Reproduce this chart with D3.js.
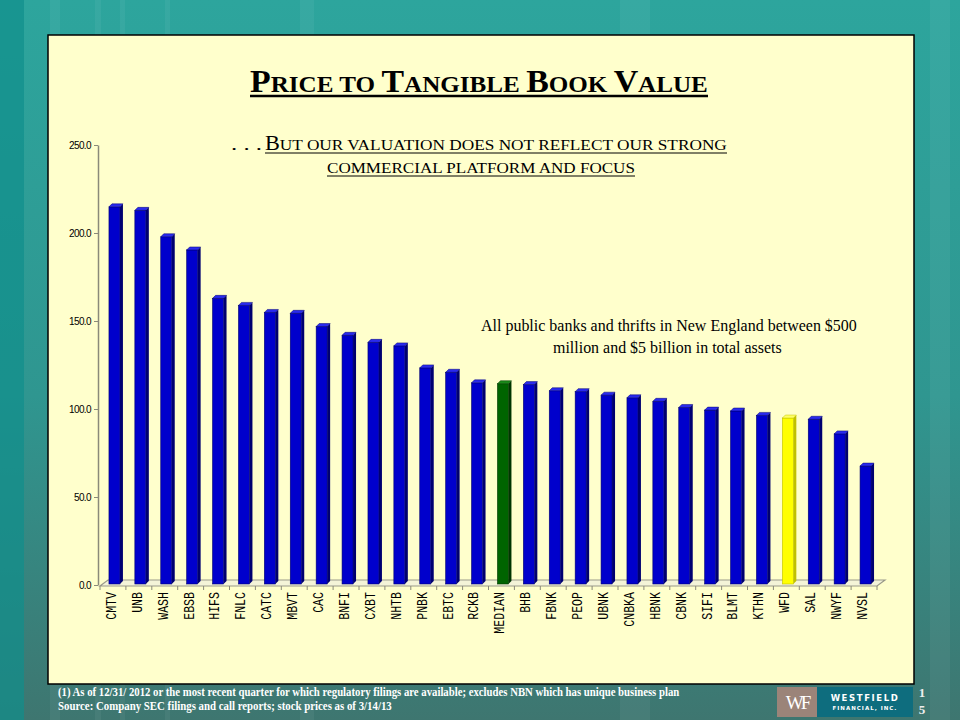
<!DOCTYPE html>
<html><head><meta charset="utf-8">
<script src="https://cdn.jsdelivr.net/npm/d3@7"></script>
<style>body{margin:0;background:#2a9a94}svg{display:block}</style>
</head><body><svg id="c" width="960" height="720"></svg>
<script>
const categories = ["CMTV","UNB","WASH","EBSB","HIFS","FNLC","CATC","MBVT","CAC","BNFI","CXBT","NHTB","PNBK","EBTC","RCKB","MEDIAN","BHB","FBNK","PEOP","UBNK","CNBKA","HBNK","CBNK","SIFI","BLMT","KTHN","WFD","SAL","NWYF","NVSL"];
const values = [216,214,199,191.5,164,160,156,155.5,148,143,139,137,124.5,122,116,115.5,115,111.5,111,109,107.5,105.5,102,100.5,100,97.5,96,95.3,87,68.7];
const medianCats = ["MEDIAN"];
const ownCats = ["WFD"];
const yTicks = [0,50,100,150,200,250];
const titleParts = [["P",1],["RICE TO ",0],["T",1],["ANGIBLE ",0],["B",1],["OOK ",0],["V",1],["ALUE",0]];
const sub1Parts = [["B",1],["UT OUR VALUATION DOES NOT REFLECT OUR STRONG",0]];
const sub2Parts = [["COMMERCIAL PLATFORM AND FOCUS",0]];
const noteLines = ["All public banks and thrifts in New England between $500","million and $5 billion in total assets"];
const footLines = ["(1) As of  12/31/ 2012 or the most recent quarter for which regulatory filings are available; excludes NBN which has unique business plan","Source:  Company SEC filings and call reports; stock prices as of 3/14/13"];

const svg = d3.select("#c");
const defs = svg.append("defs");
const bg = defs.append("linearGradient").attr("id","bg").attr("x1",0).attr("y1",0).attr("x2",0).attr("y2",1);
bg.append("stop").attr("offset","0%").attr("stop-color","#2da59d");
bg.append("stop").attr("offset","55%").attr("stop-color","#2f9690");
bg.append("stop").attr("offset","100%").attr("stop-color","#3e7670");
svg.append("rect").attr("width",960).attr("height",720).attr("fill","url(#bg)");
svg.append("rect").attr("width",24).attr("height",720).attr("fill","#0f8e8c").attr("opacity",0.7);
[[50,10],[95,6],[120,5],[165,5],[300,14],[620,30],[930,20]].forEach(([x,w])=>{
  svg.append("rect").attr("x",x).attr("y",0).attr("width",w).attr("height",720).attr("fill","#ffffff").attr("opacity",0.05);
});

// panel
svg.append("rect").attr("x",48).attr("y",35).attr("width",866).attr("height",649)
  .attr("fill","#ffffcc").attr("stroke","#000").attr("stroke-width",1.5);

// scales
const x = d3.scaleBand().domain(categories).range([100,877]).paddingInner(0.46).paddingOuter(0.23);
const y = d3.scaleLinear().domain([0,250]).range([585,145]);
const dx = 3, dy = 3, depthX = 8, depthY = 6;

// floor
const fl = x.range();
svg.append("path")
  .attr("d",`M${fl[0]},${y(0)+1}L${fl[1]},${y(0)+1}L${fl[1]+depthX},${y(0)+1-depthY}L${fl[0]+depthX},${y(0)+1-depthY}Z`)
  .attr("fill","#f4f4d8").attr("stroke","#9a9a8a").attr("stroke-width",1.2);

// x ticks at band boundaries
const bounds = categories.map(c => x(c) - x.step()*x.paddingInner()/2).concat([fl[1]]);
svg.append("g").selectAll("line").data(bounds).join("line")
  .attr("x1",d=>d).attr("x2",d=>d).attr("y1",y(0)+1).attr("y2",y(0)+5)
  .attr("stroke","#8a8a7a").attr("stroke-width",1);

// y axis
const yAxis = svg.append("g").attr("transform",`translate(98,0)`)
  .call(d3.axisLeft(y).tickValues(yTicks).tickFormat(d3.format(".1f")).tickSize(4).tickSizeOuter(0));
yAxis.select(".domain").attr("stroke","#8a8a7a").attr("stroke-width",1.5);
yAxis.selectAll(".tick line").attr("stroke","#8a8a7a");
yAxis.selectAll(".tick text").attr("font-family","Liberation Sans, Arial, sans-serif").attr("font-size",10)
  .attr("fill","#000").attr("letter-spacing","-0.6").attr("x",-7);

// bars
const colorOf = c => medianCats.includes(c) ? ["#006400","#003600","#1a8a1a"] :
  ownCats.includes(c) ? ["#ffff00","#c0c000","#ffff66"] : ["#0000cc","#000070","#2a2aee"];
const bw = x.bandwidth();
const fw = bw - dx;
const base = y(0) - 1;
const bars = svg.append("g").selectAll("g").data(categories.map((c,i)=>({c,v:values[i]}))).join("g");
bars.each(function(d){
  const g = d3.select(this);
  const [front, side, top] = colorOf(d.c);
  const x0 = x(d.c) + dx, y0 = y(d.v) + dy - 1;
  g.append("path").attr("d",`M${x0+fw},${y0}L${x0+fw+dx},${y0-dy}L${x0+fw+dx},${base-dy}L${x0+fw},${base}Z`).attr("fill",side);
  g.append("rect").attr("x",x0).attr("y",y0).attr("width",fw).attr("height",base-y0).attr("fill",front)
    .attr("stroke",side).attr("stroke-width",0.6);
  g.append("path").attr("d",`M${x0},${y0}L${x0+dx},${y0-dy}L${x0+fw+dx},${y0-dy}L${x0+fw},${y0}Z`).attr("fill",top)
    .attr("stroke",side).attr("stroke-width",0.5);
});

// x labels
svg.append("g").selectAll("text").data(categories).join("text")
  .attr("transform",d=>`translate(${x(d)+bw/2 - 1},592) rotate(-90) scale(1,1.3)`)
  .attr("text-anchor","end").attr("dominant-baseline","central")
  .attr("font-family","Liberation Mono, Courier New, monospace").attr("font-size",11.6)
  .attr("fill","#000").text(d=>d);

// fitted text helper
function fit(parts, x0, x1, baseline, big, small, opts) {
  const t = svg.append("text").attr("x",0).attr("y",0)
    .attr("font-family","Liberation Serif, Times New Roman, serif")
    .attr("font-weight",opts.weight||"normal").attr("fill",opts.fill||"#000");
  parts.forEach(([s,b])=>t.append("tspan").attr("font-size",b?big:small).text(s));
  const w = t.node().getComputedTextLength();
  const sx = (x1-x0)/w;
  t.attr("transform",`translate(${x0},${baseline}) scale(${sx},1)`);
  if (opts.underline) {
    svg.append("line").attr("x1",x0).attr("x2",x1).attr("y1",baseline+opts.underline[0]).attr("y2",baseline+opts.underline[0])
      .attr("stroke",opts.fill||"#000").attr("stroke-width",opts.underline[1]);
  }
  return t;
}

fit(titleParts, 250, 708, 92, 31, 23, {weight:"bold", underline:[4,2.5]});
fit([[". . . ",0]], 231, 262, 150, 19, 17, {});
fit(sub1Parts, 265, 727, 150, 20, 15.5, {underline:[3,1]});
fit(sub2Parts, 327, 635, 173, 20, 15.5, {underline:[3,1]});
fit([[noteLines[0],0]], 481, 857, 331, 16, 16, {});
fit([[noteLines[1],0]], 553, 782, 353, 16, 16, {});
fit([[footLines[0],0]], 58, 680, 696, 12.5, 12.5, {weight:"bold", fill:"#ffffff"});
fit([[footLines[1],0]], 58, 392, 710, 12.5, 12.5, {weight:"bold", fill:"#ffffff"});

// logo
svg.append("rect").attr("x",777).attr("y",687).attr("width",40).attr("height",30).attr("fill","#9b8479");
svg.append("rect").attr("x",817).attr("y",687).attr("width",96).attr("height",30).attr("fill","#0e6d7e");
svg.append("text").attr("x",797).attr("y",709).attr("text-anchor","middle")
  .attr("font-family","Liberation Serif, serif").attr("font-size",19).attr("fill","#fff").attr("letter-spacing","-3").text("WF");
svg.append("text").attr("x",865).attr("y",701).attr("text-anchor","middle")
  .attr("font-family","DejaVu Sans, sans-serif").attr("font-weight","bold").attr("font-size",8.5).attr("letter-spacing","1.6")
  .attr("fill","#fff").text("WESTFIELD");
svg.append("text").attr("x",865).attr("y",710).attr("text-anchor","middle")
  .attr("font-family","DejaVu Sans, sans-serif").attr("font-weight","bold").attr("font-size",5.5).attr("letter-spacing","1")
  .attr("fill","#fff").text("FINANCIAL, INC.");
svg.append("text").attr("x",922).attr("y",697).attr("text-anchor","middle")
  .attr("font-family","Liberation Serif, serif").attr("font-weight","bold").attr("font-size",13).attr("fill","#eeeeee").text("1");
svg.append("text").attr("x",922).attr("y",714).attr("text-anchor","middle")
  .attr("font-family","Liberation Serif, serif").attr("font-weight","bold").attr("font-size",13).attr("fill","#eeeeee").text("5");
</script></body></html>
